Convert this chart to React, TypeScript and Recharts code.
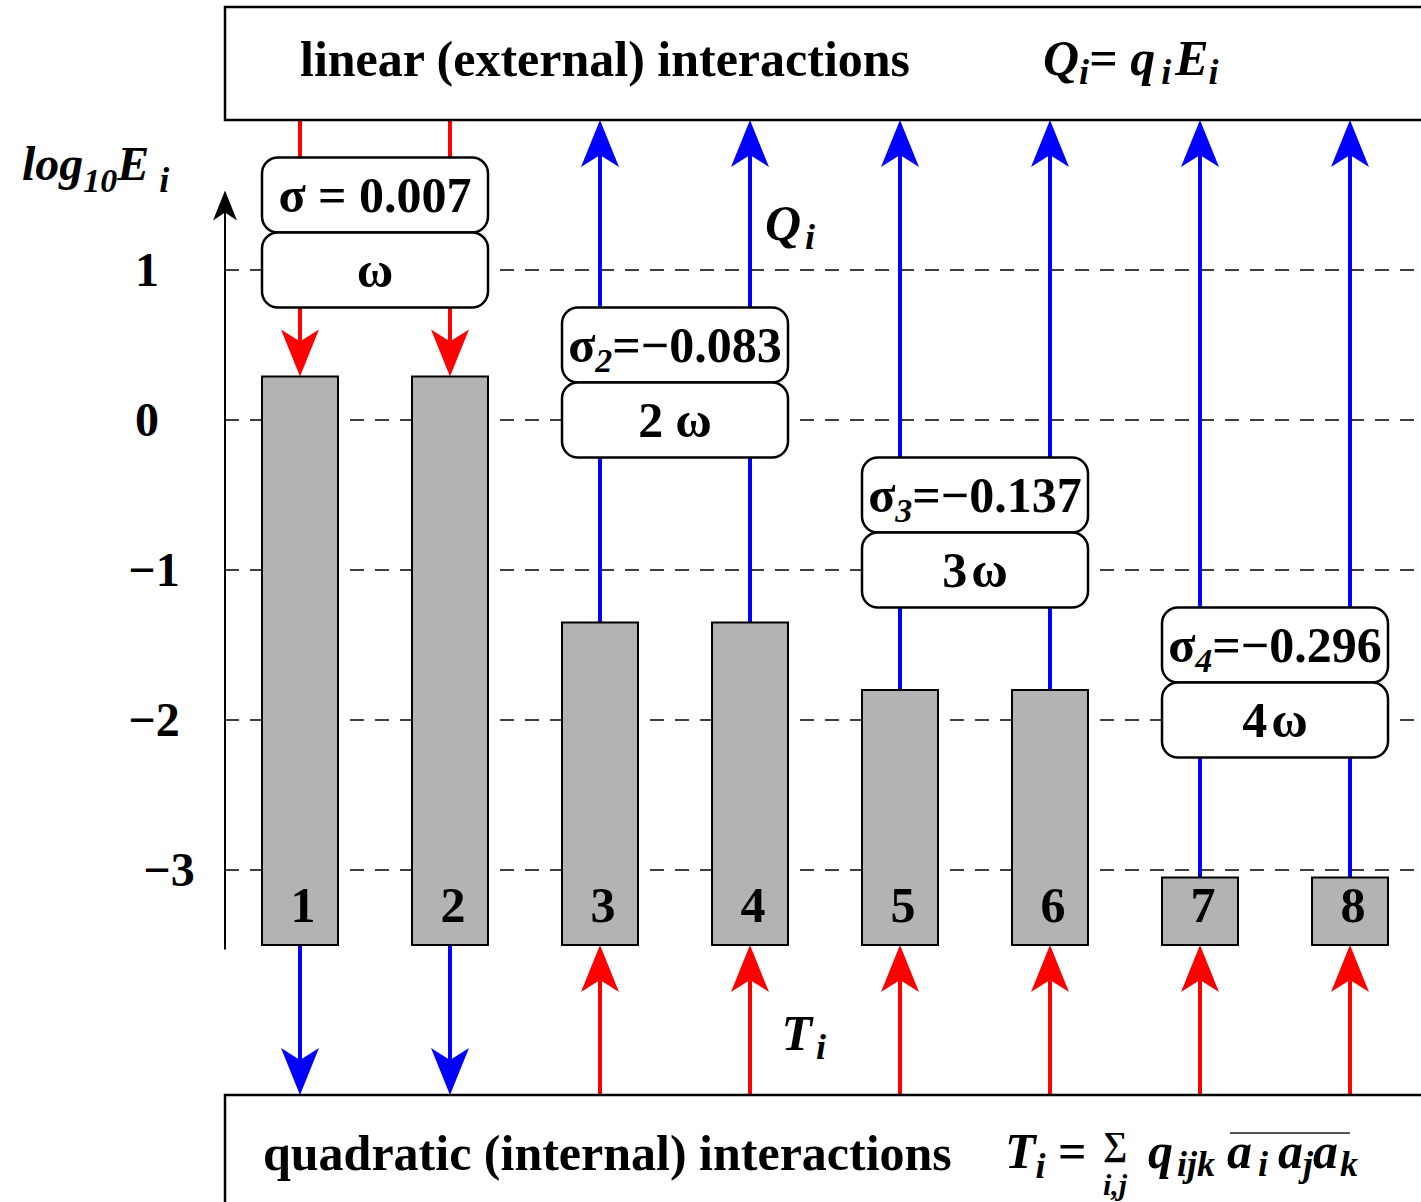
import React from 'react';
import {
  Bar,
  CartesianGrid,
  ComposedChart,
  LabelList,
  ReferenceArea,
  ReferenceDot,
  ReferenceLine,
  XAxis,
  YAxis,
} from 'recharts';

document.body.style.margin = '0';

const FONT = '"Liberation Serif", "Times New Roman", Times, serif';
const RED = '#ff0000';
const BLUE = '#0000ff';

// modes 1..8, log10 of the energy in each mode
const modes = [1, 2, 3, 4, 5, 6, 7, 8];
const energyTop = [0.29, 0.29, -1.35, -1.35, -1.8, -1.8, -3.05, -3.05];
const energyFloor = -3.5;
// +1 = energy flows into the mode, -1 = flows out of it
const linearFlow = [1, 1, -1, -1, -1, -1, -1, -1];
const quadFlow = [-1, -1, 1, 1, 1, 1, 1, 1];
const linearBoxLevel = 2;
const quadBoxLevel = -4.5;
const yTicks = [1, 0, -1, -2, -3];

// damping / frequency boxes, one per pair of modes
const pairFirst = [1, 3, 5, 7];
const pairLast = [2, 4, 6, 8];
const sigmaSub = ['', '2', '3', '4'];
const sigmaValue = [' = 0.007', '=\u22120.083', '=\u22120.137', '=\u22120.296'];
const freqNum = ['', '2', '3', '4'];
const boxTop = [1.75, 0.75, -0.25, -1.25];

// layout
const W = 1421;
const H = 1202;
const AXIS_W = 225;
const PX = 150; // pixels per unit on both axes
const BAR_SIZE = 76;
const Y_MAX = 2.8;
const Y_MIN = Y_MAX - H / PX;
const X_MIN = 0.5;
const X_MAX = X_MIN + (W - AXIS_W) / PX;
const BAR_HALF = BAR_SIZE / 2 / PX;

const data = modes.map((m, i) => ({ mode: m, bar: [energyFloor, energyTop[i]] }));

const arrows = modes.flatMap((m, i) => [
  {
    key: `lin-${m}`,
    x: m,
    from: linearFlow[i] > 0 ? linearBoxLevel : energyTop[i],
    to: linearFlow[i] > 0 ? energyTop[i] : linearBoxLevel,
    color: linearFlow[i] > 0 ? RED : BLUE,
  },
  {
    key: `quad-${m}`,
    x: m,
    from: quadFlow[i] > 0 ? quadBoxLevel : energyFloor,
    to: quadFlow[i] > 0 ? energyFloor : quadBoxLevel,
    color: quadFlow[i] > 0 ? RED : BLUE,
  },
]);

const Arrow = ({ x1, y1, x2, y2, color, width = 4, len = 47, half = 19, notch = 35 }: any) => {
  const dir = y2 > y1 ? 1 : -1;
  const back = y2 - dir * len;
  const ny = y2 - dir * notch;
  return (
    <g>
      <line x1={x1} y1={y1} x2={x2} y2={ny} stroke={color} strokeWidth={width} />
      <path d={`M${x2},${y2} L${x2 - half},${back} L${x2},${ny} L${x2 + half},${back} Z`} fill={color} />
    </g>
  );
};

// arrow drawn inside a thin reference area, so it keeps the same layer as the boxes
const arrowShape = (down: boolean, color: string) => (p: any) => {
  const cx = p.x + p.width / 2;
  const top = p.y;
  const bottom = p.y + p.height;
  return down ? (
    <Arrow x1={cx} y1={top} x2={cx} y2={bottom} color={color} />
  ) : (
    <Arrow x1={cx} y1={bottom} x2={cx} y2={top} color={color} />
  );
};

const tickShift: Record<number, number> = { 1: 147, 0: 147, '-1': 154, '-2': 154, '-3': 169 };

const YTick = ({ y, payload }: any) => (
  <text
    x={tickShift[payload.value]}
    y={y + 16}
    textAnchor="middle"
    fontFamily={FONT}
    fontWeight="bold"
    fontSize={48}
  >
    {payload.value < 0 ? `\u2212${Math.abs(payload.value)}` : payload.value}
  </text>
);

const AxisTitle = () => (
  <text x={22} y={180} fontFamily={FONT} fontWeight="bold" fontStyle="italic" fontSize={48}>
    log
    <tspan fontSize={34} dy={12}>10</tspan>
    <tspan dy={-12}>E</tspan>
    <tspan fontSize={36} dx={10} dy={12}>i</tspan>
  </text>
);

const textStyle = { fontFamily: FONT, fontWeight: 'bold' as const, fontSize: 50 };

const roundBox = (content: React.ReactNode) => (p: any) => (
  <g>
    <rect x={p.x} y={p.y} width={p.width} height={p.height} rx={16} ry={16} fill="#fff" stroke="#000" strokeWidth={2.5} />
    <text x={p.x + p.width / 2} y={p.y + p.height / 2 + 17} textAnchor="middle" {...textStyle}>
      {content}
    </text>
  </g>
);

const sigmaText = (i: number) =>
  sigmaSub[i] ? (
    <>
      {'\u03c3'}
      <tspan fontStyle="italic" fontSize={34} dy={10}>
        {sigmaSub[i]}
      </tspan>
      <tspan dy={-10}>{sigmaValue[i]}</tspan>
    </>
  ) : (
    `\u03c3${sigmaValue[i]}`
  );

const freqText = (i: number) =>
  freqNum[i] ? (
    <>
      {freqNum[i]}
      <tspan dx={i === 1 ? 12 : 4}>{'\u03c9'}</tspan>
    </>
  ) : (
    '\u03c9'
  );

const TopBox = (p: any) => (
  <g>
    <rect x={p.x} y={p.y} width={p.width + 20} height={p.height} fill="#fff" stroke="#000" strokeWidth={2.5} />
    <text x={300} y={p.y + 69} fontSize={50} fontFamily={FONT} fontWeight="bold">
      linear (external) interactions
    </text>
    <text x={1043} y={p.y + 68} fontSize={50} fontFamily={FONT} fontWeight="bold" fontStyle="italic">
      Q<tspan fontSize={36} dy={9}>i</tspan>
      <tspan dy={-9} fontStyle="normal">=</tspan> q<tspan fontSize={36} dx={6} dy={9}>i</tspan>
      <tspan dy={-9} dx={4}>E</tspan>
      <tspan fontSize={36} dy={9}>i</tspan>
    </text>
  </g>
);

const BottomBox = (p: any) => (
  <g>
    <rect x={p.x} y={p.y} width={p.width + 20} height={p.height + 20} fill="#fff" stroke="#000" strokeWidth={2.5} />
    <text x={263} y={p.y + 75} fontSize={50} fontFamily={FONT} fontWeight="bold">
      quadratic (internal) interactions
    </text>
    <g fontFamily={FONT} fontWeight="bold" fontStyle="italic">
      <text x={1005} y={p.y + 73} fontSize={50}>
        T<tspan fontSize={36} dy={10}>i</tspan>
        <tspan dy={-10} fontStyle="normal"> =</tspan>
      </text>
      <text x={1115} y={p.y + 60} fontSize={34} textAnchor="middle" fontStyle="normal">
        {'\u2211'}
      </text>
      <text x={1115} y={p.y + 100} fontSize={30} textAnchor="middle">
        i,j
      </text>
      <text x={1148} y={p.y + 73} fontSize={50}>
        q<tspan fontSize={36} dx={4} dy={8}>ijk</tspan>
        <tspan dx={12} dy={-8}>a</tspan>
        <tspan fontSize={36} dx={6} dy={8}>i</tspan>
        <tspan dx={10} dy={-8}>a</tspan>
        <tspan fontSize={36} dy={8}>j</tspan>
        <tspan dy={-8}>a</tspan>
        <tspan fontSize={36} dx={2} dy={8}>k</tspan>
      </text>
      <line x1={1230} x2={1350} y1={p.y + 38} y2={p.y + 38} stroke="#555" strokeWidth={2} />
    </g>
  </g>
);

const BarNumber = ({ x, y, width, height, value }: any) => (
  <text x={x + width / 2 + 3} y={y + height - 23} textAnchor="middle" {...textStyle}>
    {value}
  </text>
);

const FlowLabel = (name: string) => ({ viewBox }: any) => (
  <text x={viewBox.x} y={viewBox.y} fontFamily={FONT} fontWeight="bold" fontStyle="italic" fontSize={50}>
    {name}
    <tspan fontSize={36} dx={4} dy={9}>i</tspan>
  </text>
);

export default function App() {
  return (
    <ComposedChart width={W} height={H} data={data} margin={{ top: 0, right: 0, bottom: 0, left: 0 }}>
      <CartesianGrid
        vertical={false}
        horizontalValues={yTicks}
        stroke="#000"
        strokeWidth={1.5}
        strokeDasharray="14 11"
      />
      <XAxis type="number" dataKey="mode" domain={[X_MIN, X_MAX]} hide />
      <YAxis
        type="number"
        domain={[Y_MIN, Y_MAX]}
        ticks={yTicks}
        interval={0}
        width={AXIS_W}
        axisLine={false}
        tickLine={false}
        tick={<YTick />}
        label={{ content: () => <AxisTitle /> }}
      />
      <ReferenceLine
        segment={[
          { x: X_MIN, y: energyFloor - 0.03 },
          { x: X_MIN, y: 1.53 },
        ]}
        ifOverflow="visible"
        shape={(p: any) => <Arrow {...p} color="#000" width={2} len={30} half={12} notch={22} />}
      />
      <Bar dataKey="bar" barSize={BAR_SIZE} fill="#b3b3b3" stroke="#000" strokeWidth={2} isAnimationActive={false}>
        <LabelList dataKey="mode" content={<BarNumber />} />
      </Bar>
      {arrows.map((a) => (
        <ReferenceArea
          key={a.key}
          x1={a.x - 0.01}
          x2={a.x + 0.01}
          y1={a.from}
          y2={a.to}
          ifOverflow="visible"
          shape={arrowShape(a.from > a.to, a.color)}
        />
      ))}
      {pairFirst.map((m, i) => (
        <ReferenceArea
          key={`s${i}`}
          x1={m - BAR_HALF}
          x2={pairLast[i] + BAR_HALF}
          y1={boxTop[i]}
          y2={boxTop[i] - 0.5}
          ifOverflow="visible"
          shape={roundBox(sigmaText(i))}
        />
      ))}
      {pairFirst.map((m, i) => (
        <ReferenceArea
          key={`w${i}`}
          x1={m - BAR_HALF}
          x2={pairLast[i] + BAR_HALF}
          y1={boxTop[i] - 0.5}
          y2={boxTop[i] - 1}
          ifOverflow="visible"
          shape={roundBox(freqText(i))}
        />
      ))}
      <ReferenceArea x1={X_MIN} x2={X_MAX} y1={Y_MAX - 7 / PX} y2={linearBoxLevel} ifOverflow="visible" shape={TopBox} />
      <ReferenceArea x1={X_MIN} x2={X_MAX} y1={quadBoxLevel} y2={Y_MIN} ifOverflow="visible" shape={BottomBox} />
      <ReferenceDot x={4.1} y={1.2} r={0} ifOverflow="visible" fill="none" stroke="none" label={{ content: FlowLabel('Q') }} />
      <ReferenceDot x={4.21} y={-4.2} r={0} ifOverflow="visible" fill="none" stroke="none" label={{ content: FlowLabel('T') }} />
    </ComposedChart>
  );
}
